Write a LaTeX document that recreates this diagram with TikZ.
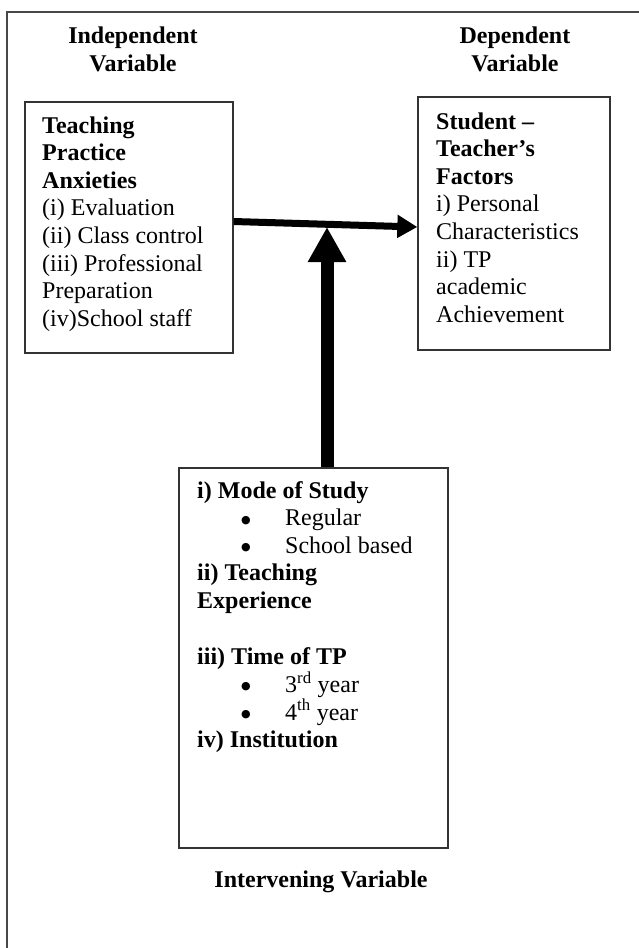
\documentclass[tikz,border=0pt]{standalone}
\usepackage{fontspec}
\setmainfont{Liberation Serif}
\newfontfamily\dejavu{DejaVu Sans}
\usetikzlibrary{arrows.meta}
\newcommand\bxt[1]{\parbox[t]{250pt}{\raggedright\fontsize{24}{27.6}\selectfont #1}}
\newcommand\hdt[1]{\parbox[t]{250pt}{\centering\fontsize{24}{28.6}\selectfont\bfseries #1}}
\newcommand\bul{\makebox[88pt][l]{\hspace{44pt}\raisebox{2.5pt}{\dejavu\fontsize{11}{11}\selectfont ●}}}
\begin{document}
\begin{tikzpicture}[x=1pt,y=-1pt,
  frame/.style={draw=black!72, line width=2pt},
  box/.style={draw=black!80, line width=1.3pt, inner sep=0pt},
  txt/.style={anchor=base west, inner sep=0pt},
  head/.style={anchor=base, inner sep=0pt},
  thinarrow/.style={line width=7pt, -{Triangle[length=20pt,width=22pt]}},
  thickarrow/.style={line width=13pt, -{Triangle[length=35pt,width=36pt]}}]
\useasboundingbox (0,0) rectangle (638,948);
\draw[frame] (7,960) -- (7,12) -- (650,12);
% headings
\node[head] (hind) at (133,43) {\hdt{Independent\\Variable}};
\node[head] (hdep) at (515,43) {\hdt{Dependent\\Variable}};
\node[head] (hint) at (321,887) {\hdt{Intervening Variable}};
% boxes
\node[box, minimum width=208pt, minimum height=251pt] (lbox) at (129,227.5) {};
\node[box, minimum width=192pt, minimum height=253pt] (rbox) at (514,223.5) {};
\node[box, minimum width=269pt, minimum height=380pt] (bbox) at (313.5,658) {};
% box texts
\node[txt] (ltext) at (42,133) {\bxt{\textbf{Teaching}\\ \textbf{Practice}\\ \textbf{Anxieties}\\ (i) Evaluation\\ (ii) Class control\\ (iii) Professional\\ Preparation\\ (iv)School staff}};
\node[txt] (rtext) at (436,129) {\bxt{\textbf{Student –}\\ \textbf{Teacher’s}\\ \textbf{Factors}\\ i) Personal\\ Characteristics\\ ii) TP\\ academic\\ Achievement}};
\node[txt] (btext) at (197,498) {\bxt{\textbf{i) Mode of Study}\\ \bul Regular\\ \bul School based\\ \textbf{ii) Teaching}\\ \textbf{Experience}\\[28.8pt] \textbf{iii) Time of TP}\\ \bul 3\textsuperscript{rd} year\\ \bul 4\textsuperscript{th} year\\ \textbf{iv) Institution}}};
% arrows
\coordinate (meet) at (327,227);
\draw[thinarrow] ([yshift=6pt]lbox.east) -- ([yshift=-3.5pt]rbox.west);
\draw[thickarrow] ([xshift=13.5pt]bbox.north) -- (meet);
\end{tikzpicture}
\end{document}
